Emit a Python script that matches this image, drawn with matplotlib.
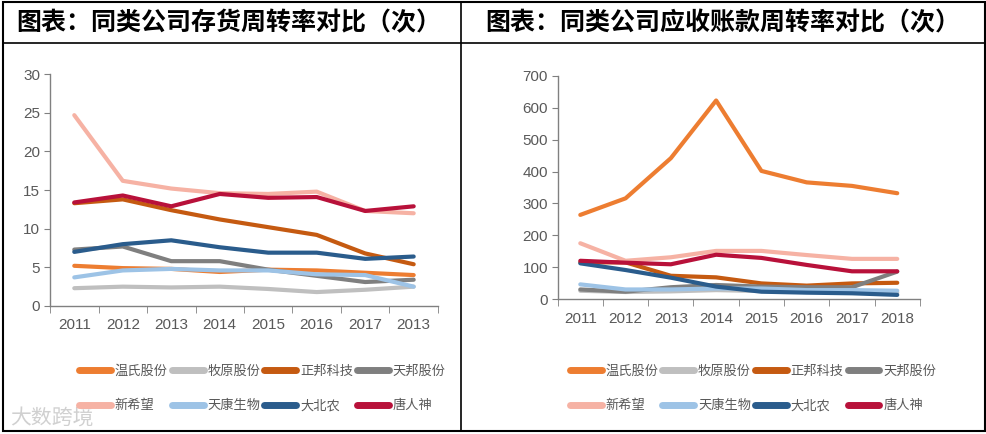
import matplotlib
matplotlib.use("Agg")
import matplotlib.pyplot as plt
from matplotlib.lines import Line2D
from matplotlib.patches import Rectangle

plt.rcParams['font.family'] = ['Noto Sans CJK SC', 'DejaVu Sans']

# data
companies = ["温氏股份", "牧原股份", "正邦科技", "天邦股份",
             "新希望", "天康生物", "大北农", "唐人神"]
colors = ["#ED7D31", "#BFBFBF", "#C55A11", "#7F7F7F",
          "#F6B2A4", "#9DC3E6", "#2A5C8C", "#B8113A"]

years_left = ["2011", "2012", "2013", "2014", "2015", "2016", "2017", "2013"]
years_right = ["2011", "2012", "2013", "2014", "2015", "2016", "2017", "2018"]

# 存货周转率
inv_wens = [5.2, 4.9, 4.8, 4.4, 4.7, 4.6, 4.3, 4.0]
inv_muyuan = [2.3, 2.5, 2.4, 2.5, 2.2, 1.8, 2.1, 2.5]
inv_zhengbang = [13.3, 13.8, 12.4, 11.2, 10.2, 9.2, 6.8, 5.4]
inv_tianbang = [7.3, 7.7, 5.8, 5.8, 4.7, 3.9, 3.1, 3.4]
inv_xinxiwang = [24.7, 16.2, 15.2, 14.6, 14.5, 14.8, 12.3, 12.0]
inv_tiankang = [3.7, 4.6, 4.8, 4.6, 4.6, 4.1, 4.0, 2.5]
inv_dabeinong = [7.0, 8.0, 8.5, 7.6, 6.9, 6.9, 6.1, 6.4]
inv_tangrenshen = [13.4, 14.3, 12.9, 14.5, 14.0, 14.1, 12.3, 12.9]

# 应收账款周转率
rec_wens = [264, 316, 442, 623, 402, 366, 355, 332]
rec_muyuan = [26, 22, 24, 28, 25, 22, 22, 20]
rec_zhengbang = [115, 115, 73, 68, 49, 42, 49, 51]
rec_tianbang = [30, 23, 37, 44, 39, 37, 37, 86]
rec_xinxiwang = [175, 120, 131, 151, 151, 138, 126, 126]
rec_tiankang = [46, 30, 30, 33, 33, 28, 28, 26]
rec_dabeinong = [112, 91, 67, 39, 23, 20, 18, 13]
rec_tangrenshen = [120, 114, 109, 139, 129, 107, 87, 87]

inventory = [inv_wens, inv_muyuan, inv_zhengbang, inv_tianbang,
             inv_xinxiwang, inv_tiankang, inv_dabeinong, inv_tangrenshen]
receivable = [rec_wens, rec_muyuan, rec_zhengbang, rec_tianbang,
              rec_xinxiwang, rec_tiankang, rec_dabeinong, rec_tangrenshen]

fig = plt.figure(figsize=(9.87, 4.34), dpi=100)

tick_font = ['Liberation Sans Narrow', 'Liberation Sans', 'DejaVu Sans']
axis_grey = "#808080"
label_grey = "#595959"


def draw_panel(ax, series, labels, ymax, ystep, legend_x):
    x = range(len(labels))
    for vals, name, c in zip(series, companies, colors):
        ax.plot(x, vals, color=c, lw=3, label=name, solid_capstyle='round')
    ax.set_xlim(-0.5, len(labels) - 0.5)
    ax.set_ylim(0, ymax)
    ax.set_yticks(range(0, ymax + 1, ystep))
    ax.set_xticks(list(x))
    ax.set_xticklabels(labels)
    ax.set_xticks([i - 0.5 for i in range(len(labels) + 1)], minor=True)
    ax.tick_params(axis='x', which='major', length=0, pad=9)
    ax.tick_params(axis='x', which='minor', length=5, color=axis_grey, direction='out')
    ax.tick_params(axis='y', length=4, color=axis_grey, direction='out', pad=3)
    for lab in ax.get_xticklabels() + ax.get_yticklabels():
        lab.set_family(tick_font)
        lab.set_fontsize(11)
        lab.set_color(label_grey)
    for s in ['top', 'right']:
        ax.spines[s].set_visible(False)
    for s in ['left', 'bottom']:
        ax.spines[s].set_color(axis_grey)
        ax.spines[s].set_linewidth(1)
    # legend fills column by column, so interleave to get row order
    handles, names = ax.get_legend_handles_labels()
    order = [0, 4, 1, 5, 2, 6, 3, 7]
    leg = fig.legend([handles[i] for i in order], [names[i] for i in order],
                     loc='upper left', bbox_to_anchor=(legend_x, 0.172), ncol=4,
                     frameon=False, fontsize=9.5, handlelength=2.4,
                     handletextpad=0.3, columnspacing=0.3, labelspacing=1.65,
                     borderaxespad=0)
    for t in leg.get_texts():
        t.set_color(label_grey)
    for h in leg.get_lines():
        h.set_linewidth(5)


ax1 = fig.add_axes([0.0507, 0.295, 0.393, 0.534])
draw_panel(ax1, inventory, years_left, 30, 5, 0.075)

ax2 = fig.add_axes([0.565, 0.311, 0.367, 0.514])
draw_panel(ax2, receivable, years_right, 700, 100, 0.572)

# outer frame and dividers
fig.add_artist(Rectangle((0.003, 0.007), 0.995, 0.989, transform=fig.transFigure,
                         fill=False, edgecolor='black', lw=1.5))
fig.add_artist(Line2D([0.003, 0.998], [0.901, 0.901], transform=fig.transFigure,
                      color='black', lw=1.2))
fig.add_artist(Line2D([0.467, 0.467], [0.007, 0.996], transform=fig.transFigure,
                      color='black', lw=1.2))

fig.text(0.016, 0.948, "图表：同类公司存货周转率对比（次）", fontsize=18,
         fontweight='bold', va='center', ha='left')
fig.text(0.492, 0.948, "图表：同类公司应收账款周转率对比（次）", fontsize=18,
         fontweight='bold', va='center', ha='left')

# watermark
fig.text(0.01, 0.035, "大数跨境", fontsize=15, color="#D0D0D0", va='center', ha='left')

fig.savefig("out.png", dpi=100)
